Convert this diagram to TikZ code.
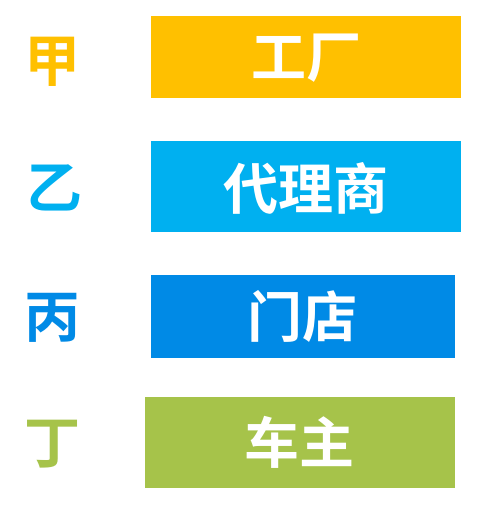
\documentclass[tikz,border=0pt]{standalone}
\usepackage{fontspec}
\newfontfamily\cjk[BoldFont={Noto Sans CJK SC Bold}]{Noto Sans CJK SC}
\definecolor{cA}{HTML}{FFC000}
\definecolor{cB}{HTML}{00B0F0}
\definecolor{cC}{HTML}{008AE6}
\definecolor{cD}{HTML}{A6C34A}
\begin{document}
\begin{tikzpicture}[x=1pt,y=-1pt,
  lab/.style={font=\cjk\bfseries\fontsize{56}{56}\selectfont, inner sep=0pt, anchor=center},
  boxtxt/.style={font=\cjk\bfseries\fontsize{55}{55}\selectfont, text=white, inner sep=0pt, anchor=center}]
\useasboundingbox[fill=white] (0,0) rectangle (483,510);
% boxes
\fill[cA] (151,16) rectangle (461,97.7);
\fill[cB] (151,141) rectangle (461,231.7);
\fill[cC] (151,275) rectangle (455,357.7);
\fill[cD] (145,397) rectangle (455,487.7);
\node[boxtxt] (t1) at (306,58) {工厂};
\node[boxtxt] (t2) at (305.5,188) {代理商};
\node[boxtxt] (t3) at (302.5,316.5) {门店};
\node[boxtxt] (t4) at (299.5,442.5) {车主};
\node[lab, text=cA] (l1) at (52.5,61.5) {甲};
\node[lab, text=cB] (l2) at (54,188) {乙};
\node[lab, text=cC] (l3) at (52.5,318) {丙};
\node[lab, text=cD] (l4) at (52.5,444.5) {丁};
\end{tikzpicture}
\end{document}
